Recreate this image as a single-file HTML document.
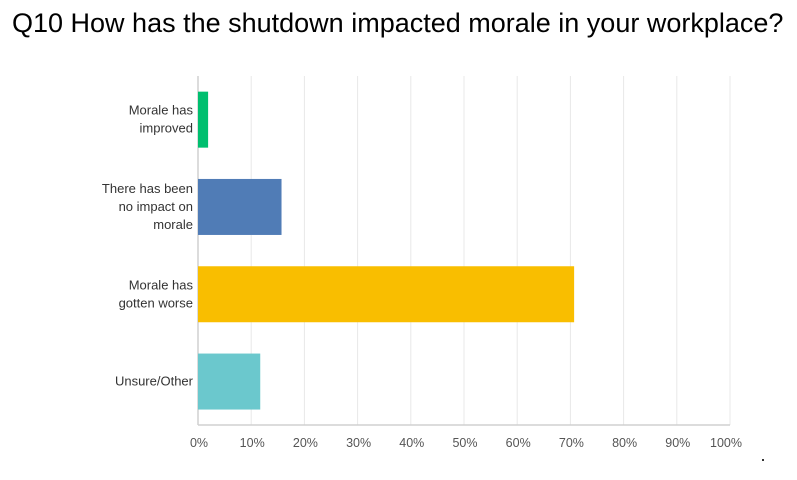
<!DOCTYPE html>
<html><head><meta charset="utf-8"><style>
body{margin:0;background:#fff;width:797px;height:480px;overflow:hidden;font-family:"Liberation Sans",sans-serif}
#title{position:absolute;left:12px;top:8px;font-size:27px;color:#000;white-space:nowrap}
</style></head><body>
<div id="title">Q10 How has the shutdown impacted morale in your workplace?</div>
<svg id="chart" width="797" height="480" style="position:absolute;left:0;top:0"></svg>
<script>
const categories=[["Morale has","improved"],["There has been","no impact on","morale"],["Morale has","gotten worse"],["Unsure/Other"]];
const values=[1.9,15.7,70.7,11.7];
const colors=["#00bf6f","#507cb6","#f9be00","#6bc8cd"];
const ticks=[0,10,20,30,40,50,60,70,80,90,100];
const tickLabels=["0%","10%","20%","30%","40%","50%","60%","70%","80%","90%","100%"];
const svg=document.getElementById('chart');
const NS="http://www.w3.org/2000/svg";
const x0=198,x1=730,yTop=76,yBot=425,bandTop=76,bandH=87.3,barH=56;
const xs=v=>x0+(x1-x0)*v/100;
function mk(t,a){const e=document.createElementNS(NS,t);for(const k in a)e.setAttribute(k,a[k]);svg.appendChild(e);return e;}
ticks.forEach((t,i)=>{
 if(i>0){const g=mk('line',{x1:xs(t),x2:xs(t),y1:yTop,y2:yBot,stroke:'#e8e8e8','stroke-width':1});
 
 }
 const tx=mk('text',{x:xs(t)-(t===100?5:0)+1,y:447,'text-anchor':'middle','font-size':12.5,fill:'#555','font-family':'Liberation Sans, sans-serif'});
 tx.textContent=tickLabels[i];
 
 
});
const ax=mk('line',{x1:x0,x2:x0,y1:yTop,y2:yBot,stroke:'#d0d0d0','stroke-width':1.5});


const bx=mk('line',{x1:x0,x2:x1,y1:yBot,y2:yBot,stroke:'#d0d0d0','stroke-width':1.5});


categories.forEach((c,i)=>{
 const cy=bandTop+bandH*i+bandH/2;
 const r=mk('rect',{x:x0,y:cy-barH/2,width:xs(values[i])-x0,height:barH,fill:colors[i]});
 
 
 const lh=18,start=cy-(c.length-1)*lh/2+4;
 c.forEach((line,j)=>{
  const t=mk('text',{x:193,y:start+j*lh,'text-anchor':'end','font-size':13,fill:'#333','font-family':'Liberation Sans, sans-serif'});
  t.textContent=line;
  
  
 });
});
const d=mk('rect',{x:762,y:459,width:2,height:2,fill:'#333'});


</script>
</body></html>
